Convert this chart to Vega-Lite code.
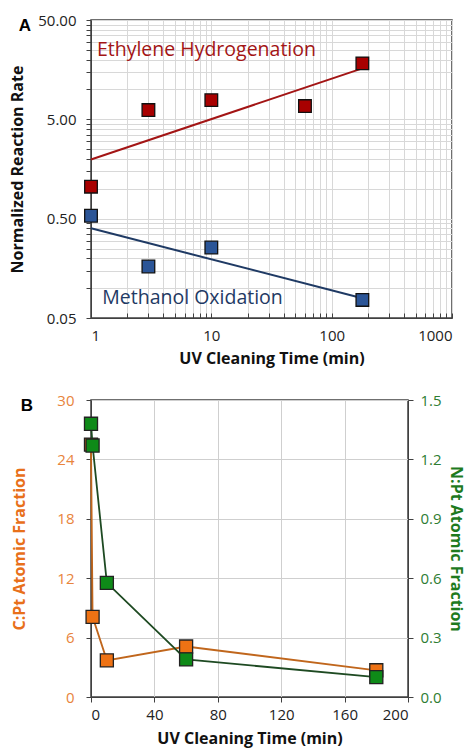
{
  "$schema": "https://vega.github.io/schema/vega-lite/v6.json",
  "background": "white",
  "padding": {"left": 9, "top": 12, "right": 2, "bottom": 5},
  "spacing": 25,
  "config": {
    "font": "Open Sans",
    "view": {"stroke": "#404040", "strokeWidth": 1.5},
    "axis": {"labelFont": "Open Sans", "titleFont": "Open Sans", "labelFontSize": 15, "titleFontSize": 16, "titleFontWeight": "bold", "labelColor": "#222", "titleColor": "#111", "domainColor": "#404040", "tickColor": "#404040", "gridColor": "#d8d8d8"}
  },
  "datasets": {
    "ratePoints": [
      {"series": "Ethylene", "time": 1, "rate": 1.05},
      {"series": "Ethylene", "time": 3, "rate": 6.2},
      {"series": "Ethylene", "time": 10, "rate": 7.8},
      {"series": "Ethylene", "time": 60, "rate": 6.8},
      {"series": "Ethylene", "time": 180, "rate": 18.3},
      {"series": "Methanol", "time": 1, "rate": 0.535},
      {"series": "Methanol", "time": 3, "rate": 0.165},
      {"series": "Methanol", "time": 10, "rate": 0.256},
      {"series": "Methanol", "time": 180, "rate": 0.076}
    ],
    "rateFit": [
      {"series": "Ethylene", "time": 1, "rate": 1.97},
      {"series": "Ethylene", "time": 180, "rate": 16.3},
      {"series": "Methanol", "time": 1, "rate": 0.40},
      {"series": "Methanol", "time": 180, "rate": 0.079}
    ],
    "rateLabels": [
      {"series": "Ethylene", "time": 1.12, "rate": 24.9, "label": "Ethylene Hydrogenation"},
      {"series": "Methanol", "time": 1.24, "rate": 0.0796, "label": "Methanol Oxidation"}
    ],
    "fractions": [
      {"species": "C", "time": 0, "cpt": 25.5},
      {"species": "C", "time": 1, "cpt": 8.1},
      {"species": "C", "time": 10, "cpt": 3.7},
      {"species": "C", "time": 60, "cpt": 5.1},
      {"species": "C", "time": 180, "cpt": 2.7},
      {"species": "N", "time": 0, "npt": 1.38},
      {"species": "N", "time": 1, "npt": 1.27},
      {"species": "N", "time": 10, "npt": 0.576},
      {"species": "N", "time": 60, "npt": 0.19},
      {"species": "N", "time": 180, "npt": 0.10}
    ]
  },
  "vconcat": [
    {
      "width": 361,
      "height": 298,
      "title": {"text": "A", "anchor": "start", "frame": "bounds", "font": "Liberation Sans", "fontSize": 17, "fontWeight": "bold", "offset": -22, "dx": 9},
      "encoding": {
        "x": {"field": "time", "type": "quantitative",
          "scale": {"type": "log", "domain": [1, 1000], "nice": false},
          "axis": {"title": "UV Cleaning Time (min)", "values": [1,2,3,4,5,6,7,8,9,10,20,30,40,50,60,70,80,90,100,200,300,400,500,600,700,800,900,1000],
            "labelExpr": "indexof([1,10,100,1000], datum.value) >= 0 ? format(datum.value, 'd') : ''",
            "labelFontSize": 15, "tickSize": -5, "labelPadding": 15, "titlePadding": 7}},
        "y": {"field": "rate", "type": "quantitative",
          "scale": {"type": "log", "domain": [0.05, 50], "nice": false},
          "axis": {"title": "Normalized Reaction Rate", "values": [0.05,0.1,0.15,0.2,0.25,0.3,0.35,0.4,0.45,0.5,1,1.5,2,2.5,3,3.5,4,4.5,5,10,15,20,25,30,35,40,45,50],
            "labelExpr": "indexof([0.05,0.5,5,50], datum.value) >= 0 ? format(datum.value, '.2f') : ''",
            "labelFontSize": 15, "tickSize": 5, "labelPadding": 10, "titlePadding": 12}},
        "color": {"field": "series", "type": "nominal", "legend": null,
          "scale": {"domain": ["Ethylene", "Methanol"], "range": ["#A31515", "#1F3A64"]}}
      },
      "layer": [
        {"data": {"name": "rateFit"}, "mark": {"type": "line", "strokeWidth": 2}, "encoding": {"detail": {"field": "series"}}},
        {"data": {"name": "ratePoints"}, "mark": {"type": "square", "size": 160, "opacity": 1, "stroke": "#111", "strokeWidth": 1.3},
          "encoding": {"fill": {"field": "series", "type": "nominal", "legend": null, "scale": {"domain": ["Ethylene", "Methanol"], "range": ["#A80000", "#2B5597"]}}}},
        {"data": {"name": "rateLabels"}, "mark": {"type": "text", "align": "left", "baseline": "middle", "fontSize": 19.5, "font": "Open Sans"},
          "encoding": {"text": {"field": "label"}, "color": {"field": "series", "type": "nominal", "legend": null, "scale": {"domain": ["Ethylene", "Methanol"], "range": ["#A31515", "#2B4A78"]}}}}
      ]
    },
    {
      "width": 317,
      "height": 297,
      "title": {"text": "B", "anchor": "start", "frame": "bounds", "font": "Liberation Sans", "fontSize": 17, "fontWeight": "bold", "offset": -22, "dx": 9},
      "data": {"name": "fractions"},
      "encoding": {
        "x": {"field": "time", "type": "quantitative",
          "scale": {"domain": [0, 200], "nice": false},
          "axis": {"title": "UV Cleaning Time (min)", "values": [0,40,80,120,160,200], "labelFontSize": 15, "tickSize": 5, "labelPadding": 5, "gridColor": "#cfcfcf", "titlePadding": 8}}
      },
      "layer": [
        {
          "transform": [{"filter": "datum.species === 'C'"}],
          "encoding": {
            "y": {"field": "cpt", "type": "quantitative",
              "scale": {"domain": [0, 30], "nice": false},
              "axis": {"title": "C:Pt Atomic Fraction", "values": [0,6,12,18,24,30], "labelFontSize": 15, "labelColor": "#E8843C", "titleColor": "#E8701A", "tickSize": 5, "labelPadding": 12, "gridColor": "#cfcfcf", "titlePadding": 29}}
          },
          "layer": [
            {"mark": {"type": "line", "color": "#C0661C", "strokeWidth": 1.8}},
            {"mark": {"type": "square", "size": 170, "opacity": 1, "fill": "#EE7214", "stroke": "#222", "strokeWidth": 1.3}}
          ]
        },
        {
          "transform": [{"filter": "datum.species === 'N'"}],
          "encoding": {
            "y": {"field": "npt", "type": "quantitative",
              "scale": {"domain": [0, 1.5], "nice": false},
              "axis": {"title": "N:Pt Atomic Fraction", "orient": "right", "values": [0,0.3,0.6,0.9,1.2,1.5], "format": ".1f", "labelFontSize": 15, "labelColor": "#2E7D32", "titleColor": "#1E7A1E", "tickSize": 5, "labelPadding": 7, "grid": false, "titlePadding": 6}}
          },
          "layer": [
            {"mark": {"type": "line", "color": "#1E4A22", "strokeWidth": 1.8}},
            {"mark": {"type": "square", "size": 170, "opacity": 1, "fill": "#0E8A18", "stroke": "#222", "strokeWidth": 1.3}}
          ]
        }
      ],
      "resolve": {"scale": {"y": "independent"}}
    }
  ]
}
